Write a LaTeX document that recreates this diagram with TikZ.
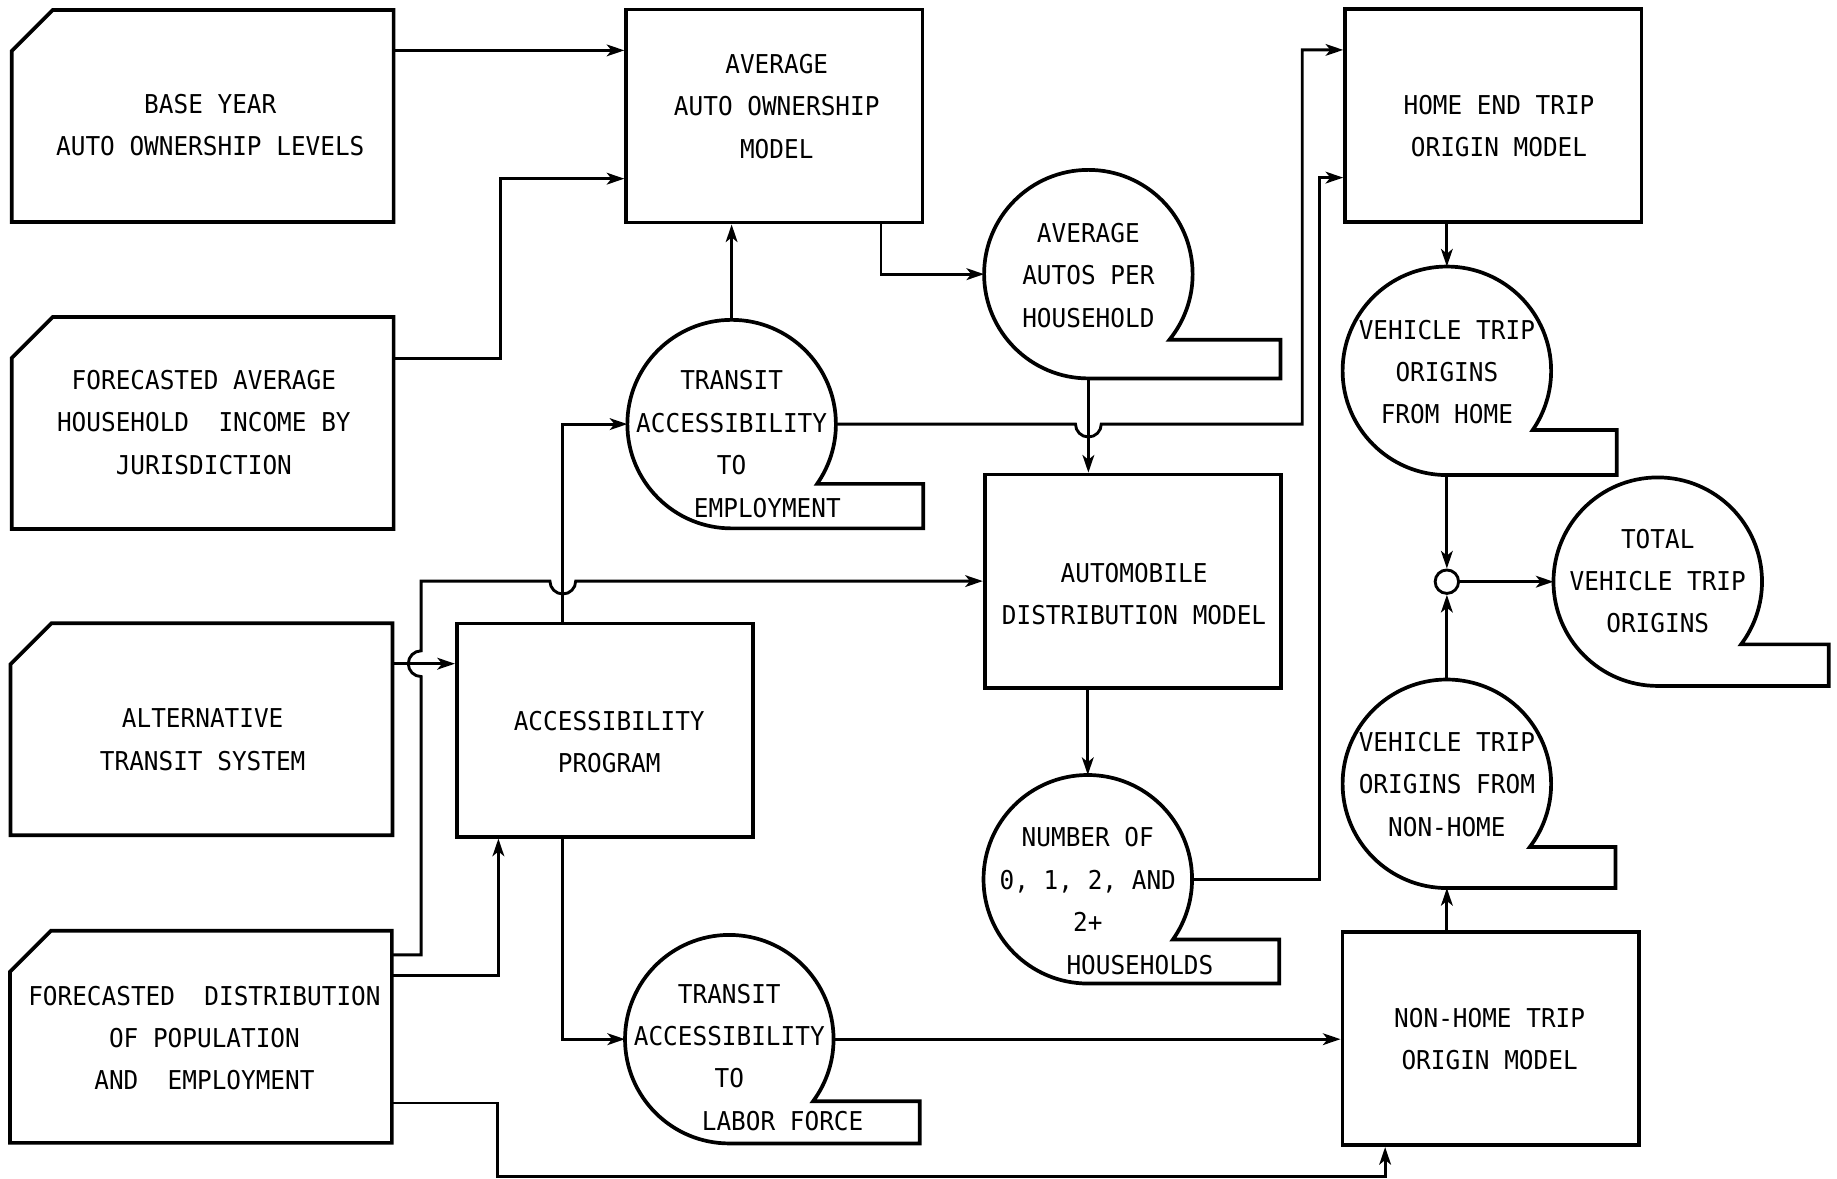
\documentclass[tikz,border=0pt]{standalone}
\usepackage{fontspec}
\newfontfamily\letterfont[FakeStretch=0.94]{DejaVu Sans Mono}
\usetikzlibrary{arrows.meta}

\begin{document}
\begin{tikzpicture}[
  x=0.1mm, y=-0.1mm,
  lettering/.style={font=\letterfont\fontsize{6.3pt}{10.3pt}\selectfont, align=center, inner sep=0pt},
  boxline/.style={line width=0.9pt, line join=miter},
  procbox/.style={draw, boxline, minimum width=25.3mm, minimum height=18.2mm},
  cardbox/.style={outer sep=0pt, minimum width=32.6mm, minimum height=18.1mm},
  tapecirc/.style={circle, minimum size=17.8mm, inner sep=0pt, outer sep=0pt},
  flow/.style={line width=0.7pt, -{Stealth[length=1.5mm, width=1mm, inset=0.4mm]}},
]
  \useasboundingbox (0,0) rectangle (1568,1006);

  % input cards (cut corner top left)
  \node[cardbox] (basecard) at (173,99) {};
  \node[cardbox] (inccard) at (173,361) {};
  \node[cardbox] (altcard) at (172,622.5) {};
  \node[cardbox] (distcard) at (171.5,885) {};
  \foreach \c in {basecard,inccard,altcard,distcard}
    \draw[boxline] (\c.south west) -- ([shift={(0,35)}]\c.north west) -- ([shift={(35,0)}]\c.north west)
      -- (\c.north east) -- (\c.south east) -- cycle;
  \node[lettering] (basetext) at (179.5,106.7) {BASE YEAR\\AUTO OWNERSHIP LEVELS};
  \node[lettering] (inctext) at (174,360.5) {FORECASTED AVERAGE\\HOUSEHOLD~ INCOME BY\\JURISDICTION};
  \node[lettering] (alttext) at (173,631.3) {ALTERNATIVE\\TRANSIT SYSTEM};
  \node[lettering] (disttext) at (174.5,886) {FORECASTED~ DISTRIBUTION\\OF POPULATION\\AND~ EMPLOYMENT};

  % models
  \node[procbox] (aaom) at (661,99) {};
  \node[procbox] (ap) at (516.4,623.2) {};
  \node[procbox] (adm) at (967,496) {};
  \node[procbox] (heom) at (1274.6,98.6) {};
  \node[procbox] (nhom) at (1272.3,886.5) {};
  \node[lettering] (aaomtext) at (663,90.7) {AVERAGE\\AUTO OWNERSHIP\\MODEL};
  \node[lettering] (aptext) at (520,633.3) {ACCESSIBILITY\\PROGRAM};
  \node[lettering] (admtext) at (968,507) {AUTOMOBILE\\DISTRIBUTION MODEL};
  \node[lettering] (heomtext) at (1279.5,107.4) {HOME END TRIP\\ORIGIN MODEL};
  \node[lettering] (nhomtext) at (1271.5,887) {NON-HOME TRIP\\ORIGIN MODEL};

  % output tapes
  \node[tapecirc] (tae) at (624.5,362) {};
  \node[tapecirc] (aaph) at (929,234) {};
  \node[tapecirc] (num) at (928.5,750.5) {};
  \node[tapecirc] (talf) at (622.5,887) {};
  \node[tapecirc] (vtoh) at (1235,316.5) {};
  \node[tapecirc] (tvto) at (1415,496.5) {};
  \node[tapecirc] (vtonh) at (1235,669) {};
  \draw[boxline] (tae.south) arc[start angle=90, end angle={360+asin(51/89)}, radius=89] -- (788,413) -- (788,451) -- cycle;
  \draw[boxline] (aaph.south) arc[start angle=90, end angle={360+asin(56/89)}, radius=89] -- (1093,290) -- (1093,323) -- cycle;
  \draw[boxline] (num.south) arc[start angle=90, end angle={360+asin(51.5/89)}, radius=89] -- (1092,802) -- (1092,839.5) -- cycle;
  \draw[boxline] (talf.south) arc[start angle=90, end angle={360+asin(53/89)}, radius=89] -- (785,940) -- (785,976) -- cycle;
  \draw[boxline] (vtoh.south) arc[start angle=90, end angle={360+asin(50.5/89)}, radius=89] -- (1380,367) -- (1380,405.5) -- cycle;
  \draw[boxline] (tvto.south) arc[start angle=90, end angle={360+asin(53.5/89)}, radius=89] -- (1561,550) -- (1561,585.5) -- cycle;
  \draw[boxline] (vtonh.south) arc[start angle=90, end angle={360+asin(54/89)}, radius=89] -- (1379,723) -- (1379,758) -- cycle;

  \node[lettering] (taetext) at (624.5,379) {TRANSIT\\ACCESSIBILITY\\TO\\\hspace*{6.1mm}EMPLOYMENT};
  \node[lettering] (aaphtext) at (929,235) {AVERAGE\\AUTOS PER\\HOUSEHOLD};
  \node[lettering] (numtext) at (928.5,769) {NUMBER OF\\0, 1, 2, AND\\2+\\\hspace*{8.9mm}HOUSEHOLDS};
  \node[lettering] (talftext) at (622.5,902.5) {TRANSIT\\ACCESSIBILITY\\TO\\\hspace*{9.1mm}LABOR FORCE};
  \node[lettering] (vtohtext) at (1235,317.5) {VEHICLE TRIP\\ORIGINS\\FROM HOME};
  \node[lettering] (tvtotext) at (1415,496) {TOTAL\\VEHICLE TRIP\\ORIGINS};
  \node[lettering] (vtonhtext) at (1235,669.5) {VEHICLE TRIP\\ORIGINS FROM\\NON-HOME};

  \node[circle, draw, line width=0.7pt, minimum size=2mm, inner sep=0pt] (sum) at (1235,496.5) {};

  % auto ownership
  \draw[flow] ([shift={(0,-56)}]basecard.east) coordinate (a1) -- (aaom.west |- a1);
  \draw[flow] ([shift={(0,-55)}]inccard.east) -- ++(91,0) |- ([shift={(0,53.5)}]aaom.west);
  \draw[flow] (tae.north) -- (tae.north |- aaom.south);
  \draw[flow] ([shift={(91,0)}]aaom.south) |- (aaph.west);
  \draw[flow] (aaph.south) -- (aaph.south |- adm.north);
  \coordinate (hop1) at (aaph.south |- tae.east);
  \draw[flow] (tae.east) -- ([shift={(-11,0)}]hop1) arc[start angle=180, end angle=0, radius=11]
    -- ([shift={(-35,0)}]heom.west |- tae.east) |- ([shift={(0,-56)}]heom.west);
  \draw[flow] (num.east) -- ([shift={(-20,0)}]heom.west |- num.east) |- ([shift={(0,53)}]heom.west);
  \draw[flow] (num.north |- adm.south) -- (num.north);

  % accessibility
  \draw[flow] ([shift={(0,-56)}]altcard.east) coordinate (a2) -- (ap.west |- a2);
  \draw[flow] ([shift={(-36,0)}]ap.north) |- (tae.west);
  \draw[flow] ([shift={(-36,0)}]ap.south) |- (talf.west);
  \coordinate (hop2) at ([shift={(25,0)}]distcard.east |- a2);
  \coordinate (hop3) at ([shift={(-36,0)}]ap.north |- adm.west);
  \draw[flow] ([shift={(0,-70)}]distcard.east) -| ([shift={(0,11)}]hop2) arc[start angle=90, end angle=270, radius=11]
    |- ([shift={(-11,0)}]hop3) arc[start angle=180, end angle=0, radius=11] -- (adm.west);
  \draw[flow] ([shift={(0,-52.5)}]distcard.east) -| ([shift={(-91,0)}]ap.south);
  \draw[flow] ([shift={(0,56.5)}]distcard.east) -- ++(90,0) -- ++(0,62.5) -| ([shift={(-90,0)}]nhom.south);
  \draw[flow] (talf.east) -- (nhom.west |- talf.east);

  % trip origins
  \draw[flow] (vtoh.north |- heom.south) -- (vtoh.north);
  \draw[flow] (vtonh.north |- nhom.north) -- (vtonh.south);
  \draw[flow] (vtoh.south) -- (sum.north);
  \draw[flow] (vtonh.north) -- (sum.south);
  \draw[flow] (sum.east) -- (tvto.west);
\end{tikzpicture}
\end{document}
